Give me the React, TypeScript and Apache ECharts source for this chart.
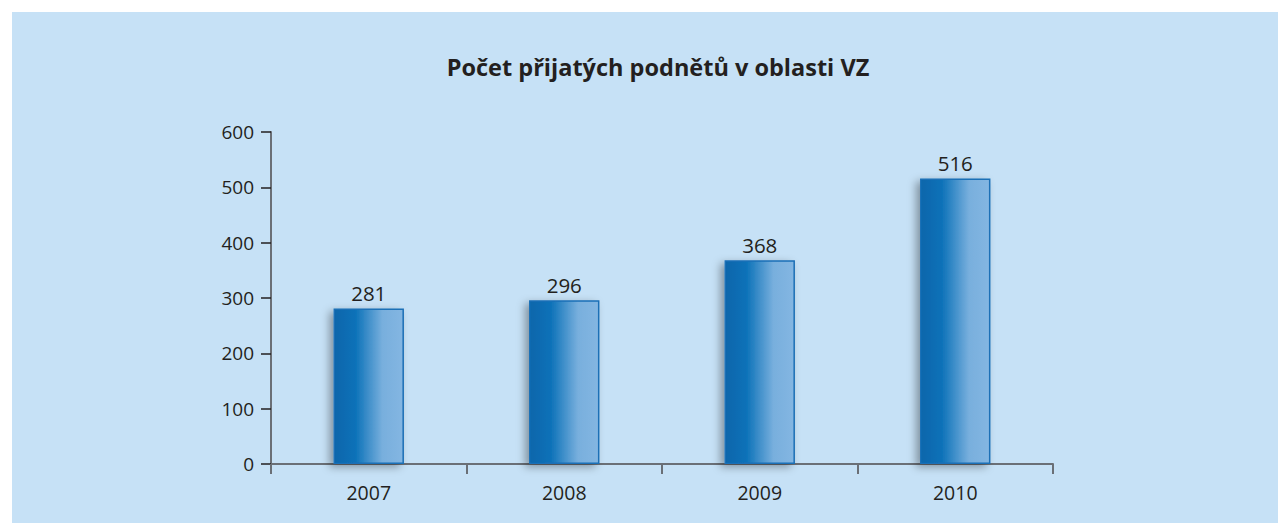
import React, { useEffect, useRef } from "react";
import * as echarts from "echarts";

const categories = ["2007", "2008", "2009", "2010"];
const values = [281, 296, 368, 516];
const title = "Počet přijatých podnětů v oblasti VZ";

export default function App() {
  const ref = useRef<HTMLDivElement>(null);
  useEffect(() => {
    const chart = echarts.init(ref.current!, null, { renderer: "svg" });
    const font = "'Open Sans', 'DejaVu Sans', sans-serif";
    chart.setOption({
      animation: false,
      backgroundColor: "#ffffff",
      graphic: [
        {
          type: "rect",
          z: -10,
          shape: { x: 12, y: 12, width: 1266, height: 511 },
          style: { fill: "#c6e1f6" },
        },
      ],
      title: {
        text: title,
        left: 653,
        textAlign: "center",
        top: 50,
        textStyle: { fontFamily: font, fontSize: 23.5, fontWeight: "bold", color: "#231f20" },
      },
      grid: { left: 271, right: 225, top: 132, bottom: 59 },
      xAxis: {
        type: "category",
        data: categories,
        axisLine: { lineStyle: { color: "#6a6f76", width: 2 } },
        axisTick: { show: true, length: 10, lineStyle: { color: "#6a6f76", width: 2 } },
        axisLabel: { margin: 18, fontFamily: font, fontSize: 19.5, color: "#231f20" },
      },
      yAxis: {
        type: "value",
        min: 0,
        max: 600,
        interval: 100,
        splitLine: { show: false },
        axisLine: { show: true, lineStyle: { color: "#6a6f76", width: 2 } },
        axisTick: { show: true, length: 10, lineStyle: { color: "#231f20", width: 1.5 } },
        axisLabel: { margin: 17, fontFamily: font, fontSize: 19, color: "#231f20" },
      },
      series: [
        {
          type: "bar",
          data: values,
          barWidth: "36%",
          itemStyle: {
            color: new echarts.graphic.LinearGradient(0, 0, 1, 0, [
              { offset: 0, color: "#0866ab" },
              { offset: 0.3, color: "#0a71b8" },
              { offset: 0.7, color: "#78afdd" },
              { offset: 1, color: "#84b6e2" },
            ]),
            borderColor: "#1a6fb6",
            borderWidth: 1.5,
            shadowBlur: 8,
            shadowOffsetX: -4,
            shadowOffsetY: 3,
            shadowColor: "rgba(0,0,0,0.35)",
          },
          label: {
            show: true,
            position: "top",
            distance: 5,
            fontFamily: font,
            fontSize: 20.5,
            color: "#231f20",
          },
        },
      ],
    });
    return () => chart.dispose();
  }, []);
  return (
    <div
      ref={ref}
      style={{ position: "fixed", left: 0, top: 0, width: 1278, height: 523 }}
    />
  );
}
